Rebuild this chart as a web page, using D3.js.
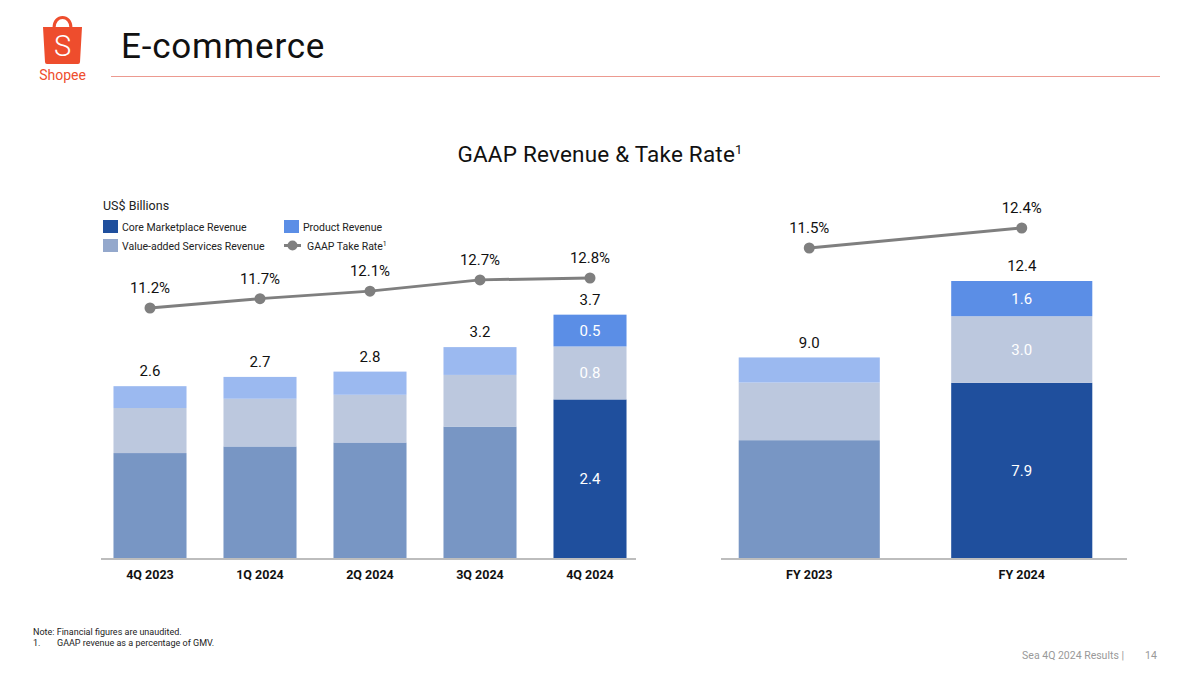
<!DOCTYPE html>
<html>
<head>
<meta charset="utf-8">
<script src="https://cdn.jsdelivr.net/npm/d3@7"></script>
<style>
  body { margin: 0; background: #fff; }
  svg { display: block; font-family: Roboto, "Open Sans", sans-serif; }
</style>
</head>
<body>
<svg id="chart" width="1200" height="675"></svg>
<script>
// quarterly data, US$ billions
var quarters = ['4Q 2023', '1Q 2024', '2Q 2024', '3Q 2024', '4Q 2024'];
var qCore = [1.6, 1.7, 1.76, 2.0, 2.41];
var qVas = [0.68, 0.72, 0.72, 0.78, 0.8];
var qProduct = [0.33, 0.33, 0.35, 0.42, 0.48];
var qTotal = ['2.6', '2.7', '2.8', '3.2', '3.7'];
var qTakeRate = [11.2, 11.7, 12.1, 12.7, 12.8];

// full year data
var years = ['FY 2023', 'FY 2024'];
var yCore = [5.3, 7.86];
var yVas = [2.57, 2.97];
var yProduct = [1.12, 1.57];
var yTotal = ['9.0', '12.4'];
var yTakeRate = [11.5, 12.4];

var legendItems = ['Core Marketplace Revenue', 'Product Revenue', 'Value-added Services Revenue', 'GAAP Take Rate'];

var colors = {
  core: '#1f4f9d', coreMuted: '#7896c4',
  vas: '#bcc8de', vasLegend: '#94a8cc',
  product: '#5b8ee6', productMuted: '#9bb9f0',
  line: '#7f7f7f', axis: '#bdbdbd', brand: '#ee4d2d'
};

var svg = d3.select('#chart');

/* header: logo, page title, rule */
var logo = svg.append('g');
logo.append('path')
  .attr('d', 'M54,28 C54,14 71,14 71,28')
  .attr('fill', 'none').attr('stroke', colors.brand).attr('stroke-width', 3);
logo.append('path')
  .attr('d', 'M43,27 L82,27 L80,62 Q80,64 78,64 L47,64 Q45,64 45,62 Z')
  .attr('fill', colors.brand);
logo.append('text')
  .attr('x', 62.5).attr('y', 56).attr('text-anchor', 'middle')
  .attr('fill', '#fff').style('font-size', '29px').style('font-weight', 300).text('S');
logo.append('text')
  .attr('x', 62.5).attr('y', 80).attr('text-anchor', 'middle')
  .attr('fill', colors.brand).style('font-size', '14px').text('Shopee');

svg.append('text')
  .attr('x', 121).attr('y', 58)
  .attr('fill', '#111').style('font-size', '35px')
  .style('letter-spacing', '0.8px')
  .text('E-commerce');

svg.append('line')
  .attr('x1', 111).attr('x2', 1160).attr('y1', 76.5).attr('y2', 76.5)
  .attr('stroke', '#ec9a90').attr('stroke-width', 1.2);

var title = svg.append('text')
  .attr('x', 600).attr('y', 162).attr('text-anchor', 'middle')
  .attr('fill', '#111').style('font-size', '22.5px')
  .style('letter-spacing', '0.2px');
title.append('tspan').text('GAAP Revenue & Take Rate');
title.append('tspan').attr('dy', -8).style('font-size', '13px').text('1');

/* legend */
svg.append('text')
  .attr('x', 103).attr('y', 210)
  .attr('fill', '#222').style('font-size', '12.5px')
  .text('US$ Billions');

var legend = svg.append('g').style('font-size', '10.5px').attr('fill', '#222');
var legendPos = [[103, 220], [284, 220], [103, 239], [284, 239]];
var legendSwatch = [colors.core, colors.product, colors.vasLegend, null];

legendItems.forEach(function(name, i) {
  var p = legendPos[i];
  if (legendSwatch[i]) {
    legend.append('rect')
      .attr('x', p[0]).attr('y', p[1])
      .attr('width', 15).attr('height', 13)
      .attr('fill', legendSwatch[i]);
    legend.append('text')
      .attr('x', p[0] + 19).attr('y', p[1] + 10.5)
      .text(name);
  } else {
    legend.append('line')
      .attr('x1', p[0]).attr('x2', p[0] + 17)
      .attr('y1', p[1] + 6.5).attr('y2', p[1] + 6.5)
      .attr('stroke', colors.line).attr('stroke-width', 3);
    legend.append('circle')
      .attr('cx', p[0] + 8.5).attr('cy', p[1] + 6.5).attr('r', 5)
      .attr('fill', colors.line);
    var t = legend.append('text').attr('x', p[0] + 23).attr('y', p[1] + 10.5);
    t.append('tspan').text(name);
    t.append('tspan').attr('dy', -4).style('font-size', '7px').text('1');
  }
});

/* one stacked panel with a take rate line above it */
function drawPanel(opt) {
  var g = svg.append('g');
  var n = opt.cats.length;

  var x = d3.scaleBand()
    .domain(opt.cats)
    .range(opt.xRange)
    .paddingInner(0.336)
    .paddingOuter(0.168);

  var y = d3.scaleLinear().domain([0, opt.yMax]).range([559, opt.yTop]);
  var r = d3.scaleLinear().domain(opt.rateDomain).range(opt.rateRange);

  var rows = opt.cats.map(function(c, i) {
    return { cat: c, core: opt.core[i], vas: opt.vas[i], product: opt.product[i], last: i === n - 1 };
  });
  var stack = d3.stack().keys(['core', 'vas', 'product'])(rows);

  function fillFor(key, d) {
    if (key === 'core') return d.data.last ? colors.core : colors.coreMuted;
    if (key === 'vas') return colors.vas;
    return d.data.last ? colors.product : colors.productMuted;
  }

  stack.forEach(function(layer) {
    g.selectAll(null)
      .data(layer)
      .enter().append('rect')
      .attr('x', function(d) { return x(d.data.cat); })
      .attr('width', x.bandwidth())
      .attr('y', function(d) { return y(d[1]); })
      .attr('height', function(d) { return y(d[0]) - y(d[1]); })
      .attr('fill', function(d) { return fillFor(layer.key, d); });

    // segment values only on the latest period
    g.selectAll(null)
      .data(layer.filter(function(d) { return d.data.last; }))
      .enter().append('text')
      .attr('x', function(d) { return x(d.data.cat) + x.bandwidth() / 2; })
      .attr('y', function(d) { return (y(d[0]) + y(d[1])) / 2; })
      .attr('dy', '0.35em')
      .attr('text-anchor', 'middle')
      .attr('fill', '#fff')
      .style('font-size', '15px')
      .text(function(d) { return (d[1] - d[0]).toFixed(1); });
  });

  // totals
  g.selectAll(null)
    .data(rows)
    .enter().append('text')
    .attr('x', function(d) { return x(d.cat) + x.bandwidth() / 2; })
    .attr('y', function(d) { return y(d.core + d.vas + d.product) - 15; })
    .attr('dy', '0.35em')
    .attr('text-anchor', 'middle')
    .attr('fill', '#111')
    .style('font-size', '15px')
    .text(function(d, i) { return opt.total[i]; });

  // baseline
  g.append('line')
    .attr('x1', opt.axisX[0]).attr('x2', opt.axisX[1])
    .attr('y1', 559).attr('y2', 559)
    .attr('stroke', colors.axis).attr('stroke-width', 2);

  var axis = g.append('g')
    .attr('transform', 'translate(0,559)')
    .call(d3.axisBottom(x).tickSize(0).tickPadding(11));
  axis.select('.domain').remove();
  axis.selectAll('text')
    .attr('fill', '#111')
    .style('font-family', 'Roboto, sans-serif')
    .style('font-size', '12.5px')
    .style('font-weight', 'bold');

  // take rate line
  var cx = function(i) { return x(opt.cats[i]) + x.bandwidth() / 2; };
  var line = d3.line()
    .x(function(d, i) { return cx(i); })
    .y(function(d) { return r(d); });

  g.append('path')
    .datum(opt.rate)
    .attr('d', line)
    .attr('fill', 'none')
    .attr('stroke', colors.line)
    .attr('stroke-width', 3);

  g.selectAll(null)
    .data(opt.rate)
    .enter().append('circle')
    .attr('cx', function(d, i) { return cx(i); })
    .attr('cy', function(d) { return r(d); })
    .attr('r', 5.5)
    .attr('fill', colors.line);

  g.selectAll(null)
    .data(opt.rate)
    .enter().append('text')
    .attr('x', function(d, i) { return cx(i); })
    .attr('y', function(d) { return r(d) - 20; })
    .attr('dy', '0.35em')
    .attr('text-anchor', 'middle')
    .attr('fill', '#111')
    .style('font-size', '15px')
    .text(function(d) { return d.toFixed(1) + '%'; });
}

drawPanel({
  cats: quarters, core: qCore, vas: qVas, product: qProduct, total: qTotal, rate: qTakeRate,
  xRange: [95, 645], axisX: [101, 636],
  yMax: 3.7, yTop: 314,
  rateDomain: [11.2, 12.8], rateRange: [308, 278]
});

drawPanel({
  cats: years, core: yCore, vas: yVas, product: yProduct, total: yTotal, rate: yTakeRate,
  xRange: [703, 1128], axisX: [721, 1127],
  yMax: 12.4, yTop: 281,
  rateDomain: [11.5, 12.4], rateRange: [248, 228]
});

/* footnotes */
var foot = svg.append('g').attr('fill', '#222').style('font-size', '9px');
foot.append('text').attr('x', 33).attr('y', 635).text('Note: Financial figures are unaudited.');
foot.append('text').attr('x', 33).attr('y', 646).text('1.');
foot.append('text').attr('x', 57).attr('y', 646).text('GAAP revenue as a percentage of GMV.');

svg.append('text')
  .attr('x', 1124).attr('y', 659).attr('text-anchor', 'end')
  .attr('fill', '#999').style('font-size', '10.5px')
  .text('Sea 4Q 2024 Results |');
svg.append('text')
  .attr('x', 1151).attr('y', 659).attr('text-anchor', 'middle')
  .attr('fill', '#999').style('font-size', '10.5px')
  .text('14');
</script>
</body>
</html>
